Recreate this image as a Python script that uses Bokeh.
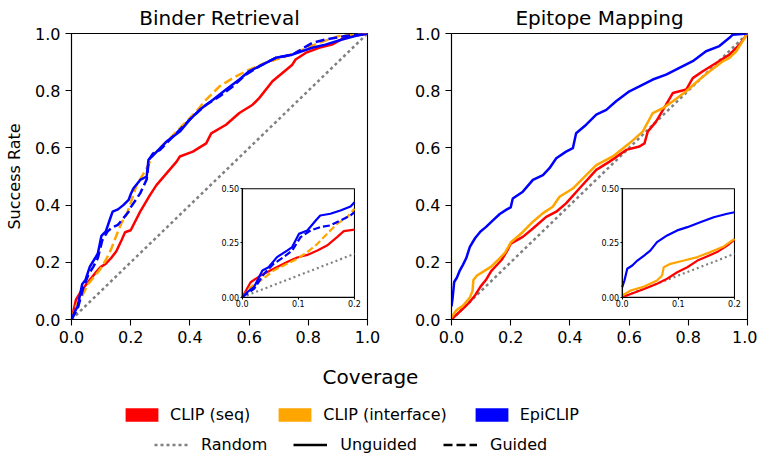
import numpy as np
from bokeh.plotting import figure
from bokeh.models import (Range1d, LinearAxis, FixedTicker, NumeralTickFormatter,
                          Legend, LegendItem, Label)
from bokeh.layouts import column, row
from bokeh.embed import file_html
from bokeh.resources import INLINE

FONT = "DejaVu Sans"

# ---------------- data ----------------
rand_x = [0.0, 1.0]
rand_y = [0.0, 1.0]

# Binder Retrieval
br_seq_x = [0, .015, .033, .056, .08, .098, .116, .134, .151, .169, .181, .2, .232, .265, .287, .321,
            .355, .366, .41, .455, .472, .522, .567, .612, .634, .679, .746, .757, .791, .836, .88,
            .925, .96, 1]
br_seq_y = [0, .069, .1, .131, .162, .183, .195, .215, .238, .277, .305, .312, .377, .435, .47, .511,
            .552, .57, .587, .616, .651, .681, .722, .751, .774, .833, .891, .909, .932, .95, .961,
            .987, .993, 1]
br_int_g_x = [0, .015, .033, .056, .08, .098, .116, .134, .151, .169, .187, .2, .22, .254, .276, .31,
              .355, .388, .422, .455, .5, .545, .589, .656, .724, .768, .835, .902, .95, 1]
br_int_g_y = [0, .046, .077, .123, .154, .177, .208, .246, .292, .338, .369, .408, .47, .529, .575,
              .611, .657, .692, .728, .769, .815, .844, .868, .898, .92, .938, .967, .991, .995, 1]
br_epi_x = [0, .009, .021, .036, .047, .062, .08, .089, .101, .116, .131, .139, .157, .175, .193, .2,
            .209, .232, .254, .26, .288, .321, .366, .399, .433, .478, .522, .567, .6, .634, .69,
            .746, .813, .858, .914, .958, 1]
br_epi_y = [0, .023, .046, .123, .138, .185, .215, .231, .292, .308, .354, .377, .385, .4, .418, .438,
            .458, .488, .5, .558, .587, .622, .657, .698, .733, .768, .804, .839, .868, .885, .915,
            .926, .95, .961, .979, .991, 1]
br_epi_g_x = [0, .021, .039, .056, .074, .089, .104, .122, .139, .157, .175, .193, .2, .232, .254,
              .262, .276, .299, .332, .377, .41, .455, .5, .545, .589, .634, .69, .746, .813, .858,
              .925, 1]
br_epi_g_y = [0, .038, .108, .154, .185, .215, .277, .308, .323, .331, .354, .377, .392, .441, .49,
              .56, .581, .593, .628, .675, .71, .751, .78, .815, .856, .885, .915, .926, .967, .979,
              .991, 1]

# Epitope Mapping
em_epi_x = [0, .004, .009, .018, .027, .039, .05, .062, .08, .098, .116, .139, .163, .187, .2, .207,
            .241, .275, .309, .331, .354, .387, .41, .421, .455, .489, .523, .556, .601, .635, .68,
            .725, .77, .815, .86, .905, .939, .95, 1]
em_epi_y = [.046, .077, .131, .146, .169, .192, .215, .254, .285, .308, .323, .346, .369, .385, .392,
            .423, .447, .488, .505, .529, .564, .587, .599, .651, .681, .716, .733, .763, .798, .815,
            .839, .856, .88, .903, .938, .956, .985, .996, 1]
em_seq_x = [0, .015, .039, .062, .08, .098, .116, .134, .151, .169, .187, .2, .241, .275, .32, .354,
            .387, .432, .489, .534, .59, .635, .652, .663, .691, .725, .748, .793, .815, .849, .894,
            .939, .973, 1]
em_seq_y = [0, .015, .038, .062, .085, .115, .138, .169, .188, .208, .238, .265, .289, .318, .359,
            .377, .406, .458, .523, .552, .593, .605, .616, .657, .692, .751, .792, .804, .844, .868,
            .897, .926, .961, 1]
em_int_x = [0, .015, .039, .062, .071, .074, .086, .11, .134, .157, .181, .2, .241, .275, .308, .342,
            .365, .41, .455, .489, .545, .601, .646, .68, .714, .748, .793, .838, .872, .917, .939,
            .962, 1]
em_int_y = [.008, .031, .049, .077, .1, .138, .154, .169, .185, .208, .234, .269, .306, .342, .371,
            .394, .429, .458, .505, .54, .57, .616, .657, .722, .739, .763, .798, .839, .868, .903,
            .915, .938, 1]

main_ticks = [0.0, 0.2, 0.4, 0.6, 0.8, 1.0]
inset_xlim = (0.0, 0.2)
inset_ylim = (0.0, 0.5)
inset_xticks = [0.0, 0.1, 0.2]
inset_yticks = [0.0, 0.25, 0.5]

titles = ["Binder Retrieval", "Epitope Mapping"]
method_labels = ["CLIP (seq)", "CLIP (interface)", "EpiCLIP"]
method_colors = ["red", "orange", "blue"]
style_labels = ["Random", "Unguided", "Guided"]

# ---------------- layout constants ----------------
FW, FH = 296, 286
INSET_FX = (0.5767, 0.956)   # inset box as fraction of frame
INSET_FY = (0.078, 0.457)
DASH = "9 4"
DOT = "3 3"
NAN = [float("nan")]


def clip(xs, ys, xmax):
    xs = np.asarray(xs, float)
    ys = np.asarray(ys, float)
    keep = xs < xmax
    return list(xs[keep]) + [xmax], list(ys[keep]) + [float(np.interp(xmax, xs, ys))]


def style_axis(ax, size, tick_out, standoff):
    ax.axis_line_color = "black"
    ax.axis_line_width = 1.1
    ax.major_tick_line_color = "black"
    ax.major_tick_line_width = 1.1
    ax.major_tick_out = tick_out
    ax.major_tick_in = 0
    ax.minor_tick_line_color = None
    ax.major_label_text_font = FONT
    ax.major_label_text_font_size = size
    ax.major_label_text_color = "black"
    ax.major_label_standoff = standoff


def panel(title, curves, ylabel, bl, br):
    p = figure(frame_width=FW, frame_height=FH, x_range=Range1d(0, 1), y_range=Range1d(0, 1),
               output_backend="svg", toolbar_location=None,
               min_border_left=bl, min_border_right=br, min_border_top=33, min_border_bottom=30)
    p.title.text = title
    p.title.align = "center"
    p.title.text_font = FONT
    p.title.text_font_size = "20px"
    p.title.text_font_style = "normal"
    p.title.text_color = "black"
    p.title.standoff = 7
    p.xgrid.visible = False
    p.ygrid.visible = False
    p.outline_line_color = "black"
    p.outline_line_width = 1.1
    p.outline_line_alpha = 1.0
    for ax in (p.xaxis[0], p.yaxis[0]):
        style_axis(ax, "16px", 6, 5)
        ax.ticker = FixedTicker(ticks=main_ticks)
        ax.formatter = NumeralTickFormatter(format="0.0")
    if ylabel:
        p.yaxis[0].axis_label = ylabel
        p.yaxis[0].axis_label_text_font = FONT
        p.yaxis[0].axis_label_text_font_size = "16px"
        p.yaxis[0].axis_label_text_font_style = "normal"
        p.yaxis[0].axis_label_text_color = "black"
        p.yaxis[0].axis_label_standoff = 8

    # inset ranges: map inset data limits onto a sub-box of the frame
    wx = (inset_xlim[1] - inset_xlim[0]) / (INSET_FX[1] - INSET_FX[0])
    wy = (inset_ylim[1] - inset_ylim[0]) / (INSET_FY[1] - INSET_FY[0])
    xs0 = inset_xlim[0] - INSET_FX[0] * wx
    ys0 = inset_ylim[0] - INSET_FY[0] * wy
    p.extra_x_ranges = {"ix": Range1d(xs0, xs0 + wx)}
    p.extra_y_ranges = {"iy": Range1d(ys0, ys0 + wy)}

    # main curves
    p.line(rand_x, rand_y, line_color="grey", line_width=2.5, line_dash=DOT)
    for xs, ys, c, dash in curves:
        p.line(xs, ys, line_color=c, line_width=2.5, line_dash=dash)

    # inset box
    p.quad(left=[inset_xlim[0]], right=[inset_xlim[1]], bottom=[inset_ylim[0]], top=[inset_ylim[1]],
           x_range_name="ix", y_range_name="iy", fill_color="white", line_color="black",
           line_width=1.1)
    rx, ry = clip(rand_x, rand_y, inset_xlim[1])
    p.line(rx, ry, line_color="grey", line_width=2.2, line_dash="2 3",
           x_range_name="ix", y_range_name="iy")
    for xs, ys, c, dash in curves:
        cx, cy = clip(xs, ys, inset_xlim[1])
        p.line(cx, cy, line_color=c, line_width=2.2, line_dash=("7 3" if dash != "solid" else "solid"),
               x_range_name="ix", y_range_name="iy")

    axb = LinearAxis(x_range_name="ix", y_range_name="iy", fixed_location=inset_ylim[0],
                     bounds=inset_xlim, ticker=FixedTicker(ticks=inset_xticks),
                     formatter=NumeralTickFormatter(format="0.0"))
    style_axis(axb, "8px", 2, 1)
    p.add_layout(axb, "below")
    axl = LinearAxis(x_range_name="ix", y_range_name="iy", fixed_location=inset_xlim[0],
                     bounds=inset_ylim, ticker=FixedTicker(ticks=inset_yticks),
                     formatter=NumeralTickFormatter(format="0.00"))
    style_axis(axl, "8px", 2, 1)
    p.add_layout(axl, "left")
    return p


p1 = panel(titles[0], [
    (br_seq_x, br_seq_y, method_colors[0], "solid"),
    (br_int_g_x, br_int_g_y, method_colors[1], DASH),
    (br_epi_x, br_epi_y, method_colors[2], "solid"),
    (br_epi_g_x, br_epi_g_y, method_colors[2], DASH),
], "Success Rate", 71, 20)

p2 = panel(titles[1], [
    (em_seq_x, em_seq_y, method_colors[0], "solid"),
    (em_int_x, em_int_y, method_colors[1], "solid"),
    (em_epi_x, em_epi_y, method_colors[2], "solid"),
], None, 64, 10)

# ---------------- bottom: x label + legends ----------------
LH = 104
lf = figure(width=757, height=LH, x_range=Range1d(0, 1), y_range=Range1d(0, 1),
            output_backend="svg", toolbar_location=None, min_border=0,
            x_axis_location=None, y_axis_location=None)
lf.outline_line_color = None
lf.xgrid.visible = False
lf.ygrid.visible = False

lf.add_layout(Label(x=370, y=LH - 27, x_units="screen", y_units="screen", text="Coverage",
                    text_align="center", text_baseline="middle", text_font=FONT,
                    text_font_size="20px", text_color="black"))

items1 = []
for lab, c in zip(method_labels, method_colors):
    r = lf.quad(left=NAN, right=NAN, top=NAN, bottom=NAN, fill_color=c, line_color=None)
    items1.append(LegendItem(label=lab, renderers=[r]))
leg1 = Legend(items=items1, orientation="horizontal", location=(121, 29),
              glyph_width=41, glyph_height=17, label_height=17, label_standoff=8, spacing=24,
              padding=0, margin=0, border_line_color=None, background_fill_alpha=0,
              label_text_font=FONT, label_text_font_size="16px", label_text_color="black")
lf.add_layout(leg1)

r_rand = lf.line(NAN, NAN, line_color="grey", line_width=2.5, line_dash=DOT)
r_ung = lf.line(NAN, NAN, line_color="black", line_width=2.5)
r_gui = lf.line(NAN, NAN, line_color="black", line_width=2.5, line_dash=DASH)
leg2 = Legend(items=[LegendItem(label=style_labels[0], renderers=[r_rand]),
                     LegendItem(label=style_labels[1], renderers=[r_ung]),
                     LegendItem(label=style_labels[2], renderers=[r_gui])],
              orientation="horizontal", location=(154, -1),
              glyph_width=34, glyph_height=17, label_height=17, label_standoff=13, spacing=26,
              padding=0, margin=0, border_line_color=None, background_fill_alpha=0,
              label_text_font=FONT, label_text_font_size="16px", label_text_color="black")
lf.add_layout(leg2)

layout = column(row(p1, p2), lf)
open("out.html", "w").write(file_html(layout, INLINE))
